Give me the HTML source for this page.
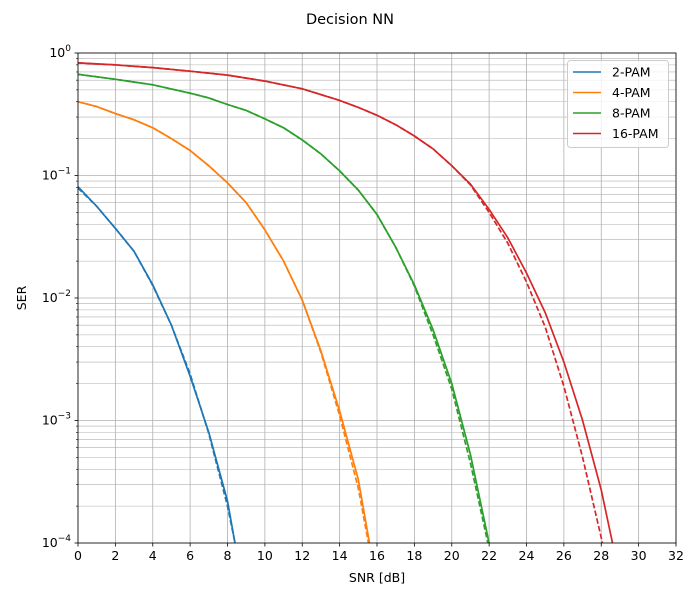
<!DOCTYPE html>
<html><head><meta charset="utf-8"><style>
html,body{margin:0;background:#fff;width:700px;height:600px;overflow:hidden;}
svg{display:block;font-family:"DejaVu Sans","Liberation Sans",sans-serif;}
</style></head><body>
<svg id="chart" width="700" height="600"></svg>
<script>
const snr2=[0,1,2,3,4,5,6,7,8,8.4,9];
const ser2=[0.081,0.056,0.037,0.024,0.0128,0.006,0.0023,0.0008,0.00022,0.0001,0.00003];
const ser2t=[0.079,0.056,0.037,0.024,0.0126,0.006,0.0024,0.00078,0.0002,0.0001,0.00003];
const snr4=[0,1,2,3,4,5,6,7,8,9,10,11,12,13,14,15,15.6,16];
const ser4=[0.40,0.365,0.32,0.285,0.245,0.2,0.16,0.12,0.087,0.06,0.036,0.02,0.0096,0.0037,0.0012,0.00033,0.0001,0.00004];
const ser4t=[0.40,0.365,0.32,0.285,0.245,0.2,0.16,0.12,0.087,0.06,0.036,0.02,0.0096,0.0036,0.0011,0.00028,0.00009,0.00003];
const snr8=[0,2,4,6,7,8,9,10,11,12,13,14,15,16,17,18,19,20,21,22,23];
const ser8=[0.67,0.61,0.55,0.47,0.43,0.38,0.34,0.29,0.245,0.195,0.15,0.109,0.076,0.048,0.026,0.0128,0.0055,0.002,0.00053,0.0001,0.00001];
const ser8t=[0.67,0.61,0.55,0.47,0.43,0.38,0.34,0.29,0.245,0.195,0.15,0.109,0.076,0.048,0.026,0.0125,0.005,0.0018,0.00045,0.00009,0.00001];
const snr16=[0,2,4,6,8,10,12,14,15,16,17,18,19,20,21,22,23,24,25,26,27,28,28.6,29];
const ser16=[0.83,0.80,0.76,0.71,0.66,0.59,0.51,0.41,0.36,0.31,0.26,0.21,0.165,0.12,0.085,0.053,0.031,0.016,0.0076,0.003,0.001,0.00027,0.0001,0.00004];
const ser16t=[0.83,0.80,0.76,0.71,0.66,0.59,0.51,0.41,0.36,0.31,0.26,0.21,0.165,0.12,0.084,0.05,0.028,0.0135,0.0058,0.0019,0.0005,0.00011,0.00004,0.00002];
const xTicks=[0,2,4,6,8,10,12,14,16,18,20,22,24,26,28,30,32];
const yExps=[0,-1,-2,-3,-4];
const names=["2-PAM","4-PAM","8-PAM","16-PAM"];
const colors=["#1f77b4","#ff7f0e","#2ca02c","#d62728"];

const L=78,R=676,T=53,B=543;
const xs=v=>L+(v-0)/(32-0)*(R-L);
const ys=v=>T+(-Math.log10(v))/4*(B-T);
const svg=document.getElementById('chart');
const NS="http://www.w3.org/2000/svg";
function mk(tag,attrs,parent){const e=document.createElementNS(NS,tag);for(const k in attrs)e.setAttribute(k,attrs[k]);(parent||svg).appendChild(e);return e;}

const defs=mk('defs',{});const cp=mk('clipPath',{id:'pc'},defs);mk('rect',{x:L,y:T,width:R-L,height:B-T},cp);

const grid=mk('g',{});


xTicks.forEach(t=>{mk('line',{x1:xs(t),x2:xs(t),y1:T,y2:B,stroke:'#b0b0b0','stroke-width':0.8},grid);});
for(let e=0;e>-4;e--){for(let m=2;m<=9;m++){const y=ys(Math.pow(10,e-1)*m);
 mk('line',{x1:L,x2:R,y1:y,y2:y,stroke:'#b0b0b0','stroke-width':0.6},grid);}}
yExps.forEach(e=>{const y=ys(Math.pow(10,e));mk('line',{x1:L,x2:R,y1:y,y2:y,stroke:'#b0b0b0','stroke-width':0.8},grid);});

const series=[[snr2,ser2,ser2t],[snr4,ser4,ser4t],[snr8,ser8,ser8t],[snr16,ser16,ser16t]];
const plot=mk('g',{'clip-path':'url(#pc)'});
series.forEach((s,i)=>{
 const pts=a=>s[0].map((x,j)=>xs(x).toFixed(1)+','+ys(a[j]).toFixed(1)).join(' ');
 const l1=mk('polyline',{points:pts(s[1]),fill:'none',stroke:colors[i],'stroke-width':1.7},plot);
 
 
 const l2=mk('polyline',{points:pts(s[2]),fill:'none',stroke:colors[i],'stroke-width':1.7,'stroke-dasharray':'5.5,2.4'},plot);
 
 
});

mk('rect',{x:L,y:T,width:R-L,height:B-T,fill:'none',stroke:'#000','stroke-width':0.8});
xTicks.forEach(t=>{const x=xs(t);mk('line',{x1:x,x2:x,y1:B,y2:B+3.5,stroke:'#000','stroke-width':0.8});
 const tx=mk('text',{x:x,y:B+17,'text-anchor':'middle','font-size':12.5});tx.textContent=t;
 });
for(let e=0;e>-4;e--){for(let m=2;m<=9;m++){const y=ys(Math.pow(10,e-1)*m);mk('line',{x1:L-2,x2:L,y1:y,y2:y,stroke:'#000','stroke-width':0.6});}}
yExps.forEach(e=>{const y=ys(Math.pow(10,e));mk('line',{x1:L-3.5,x2:L,y1:y,y2:y,stroke:'#000','stroke-width':0.8});
 const tx=mk('text',{x:L-7,y:y+4,'text-anchor':'end','font-size':12.5});
 tx.innerHTML='10<tspan dy="-6" font-size="9">'+(e<0?'−'+(-e):e)+'</tspan>';
 });
</script>
<script>
(function(){
const svg=document.getElementById('chart');const NS="http://www.w3.org/2000/svg";
function mk(tag,attrs,parent){const e=document.createElementNS(NS,tag);for(const k in attrs)e.setAttribute(k,attrs[k]);(parent||svg).appendChild(e);return e;}
const t=mk('text',{x:350,y:24,'text-anchor':'middle','font-size':14.5});t.textContent='Decision NN';

const xl=mk('text',{x:377,y:582,'text-anchor':'middle','font-size':12.5});xl.textContent='SNR [dB]';

const yl=mk('text',{x:26,y:298,'text-anchor':'middle','font-size':12.5,transform:'rotate(-90 26 298)'});yl.textContent='SER';

const lg=mk('g',{});

mk('rect',{x:567.5,y:60.5,width:101,height:87,rx:3,fill:'#fff','fill-opacity':0.8,stroke:'#ccc'},lg);
const names=["2-PAM","4-PAM","8-PAM","16-PAM"];const colors=["#1f77b4","#ff7f0e","#2ca02c","#d62728"];
names.forEach((n,i)=>{const y=72+i*20.5;
 const g=mk('g',{},lg);
 
 mk('line',{x1:573,x2:601,y1:y,y2:y,stroke:colors[i],'stroke-width':1.5},g);
 const tx=mk('text',{x:612,y:y+4.5,'font-size':12.5},g);tx.textContent=n;});
})();
</script>
</body></html>
